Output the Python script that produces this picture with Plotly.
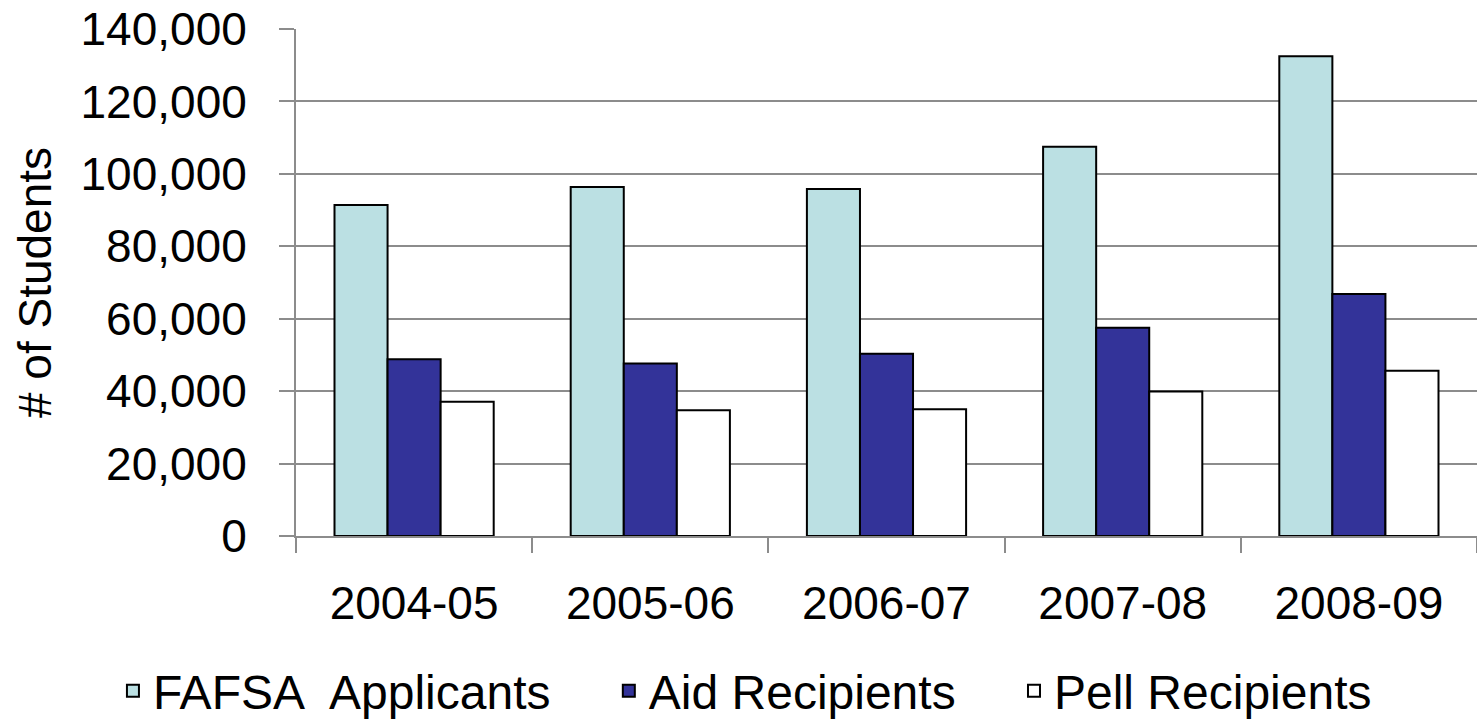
import plotly.graph_objects as go

years = ["2004-05", "2005-06", "2006-07", "2007-08", "2008-09"]
fafsa = [91400, 96400, 95800, 107500, 132500]
aid = [48800, 47600, 50300, 57500, 66800]
pell = [37100, 34700, 35000, 39900, 45600]

series_names = ["FAFSA\u00a0 Applicants", "Aid Recipients", "Pell Recipients"]
series_colors = ["#BBE0E3", "#333399", "#FFFFFF"]
y_ticks = [0, 20000, 40000, 60000, 80000, 100000, 120000, 140000]

FONT = "Arial, Liberation Sans, sans-serif"
PAD = "\u00a0" * 4

fig = go.Figure()
for i, (name, vals, col) in enumerate(zip(series_names, [fafsa, aid, pell], series_colors)):
    fig.add_trace(go.Bar(
        x=years, y=vals, name=name + (PAD if i < 2 else ""),
        marker=dict(color=col, line=dict(color="#000000", width=2)),
    ))

fig.update_layout(
    width=1477, height=722,
    margin=dict(l=296, r=0, t=29, b=186, pad=0, autoexpand=False),
    paper_bgcolor="white", plot_bgcolor="white",
    barmode="group", bargap=0.326, bargroupgap=0,
    font=dict(family=FONT, size=46, color="#000000"),
    showlegend=True,
    legend=dict(
        orientation="h", x=-0.155, xanchor="left", y=-0.3807, yanchor="bottom",
        font=dict(family=FONT, size=48, color="#000000"),
        itemwidth=30, traceorder="normal",
    ),
    yaxis=dict(
        range=[0, 140000], tickvals=y_ticks, tickformat=",d",
        showgrid=True, gridcolor="#8C8C8C", gridwidth=2,
        showline=True, linecolor="#8C8C8C", linewidth=2,
        ticks="outside", ticklen=15, tickcolor="#8C8C8C", tickwidth=2,
        tickfont=dict(family=FONT, size=46),
        ticklabelstandoff=23, automargin=False, ticklabeloverflow="allow",
        title=dict(text="# of Students", font=dict(family=FONT, size=46), standoff=14),
        zeroline=False,
    ),
    xaxis=dict(
        type="category", automargin=False, ticklabeloverflow="allow",
        showline=True, linecolor="#8C8C8C", linewidth=2,
        ticks="outside", ticklen=15, tickcolor="#8C8C8C", tickwidth=2,
        tickson="boundaries",
        tickfont=dict(family=FONT, size=46),
        ticklabelstandoff=26,
        showgrid=False,
    ),
)

fig.write_html("out.html", config={"displayModeBar": False},
               post_script="document.body.style.margin='0';")
